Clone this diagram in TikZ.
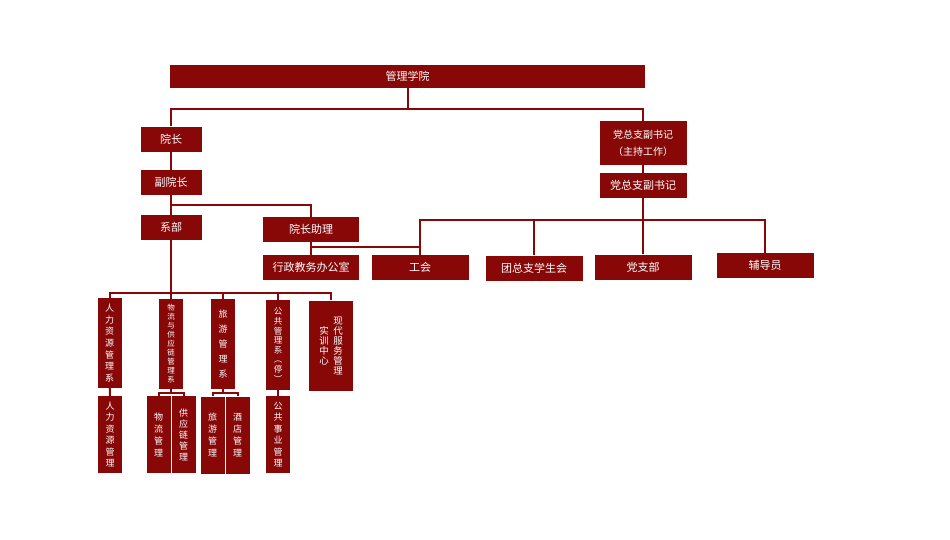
\documentclass[tikz,border=0pt]{standalone}
\usepackage{fontspec}
\setmainfont{Noto Sans CJK SC}
\usepackage{tikz}
\usetikzlibrary{positioning}
\definecolor{dred}{RGB}{136, 8, 8}
\tikzset{box/.style = {fill=dred, text=white, inner sep=0, minimum height=25,
                       align=center, font=\fontsize{11}{13}\selectfont}}
\tikzset{vbox/.style = {box, minimum width=24, minimum height=90,
                        font=\fontsize{9}{11.7}\selectfont}}
\tikzset{lbox/.style = {box, minimum width=24, minimum height=77,
                        font=\fontsize{9}{11.4}\selectfont}}
\tikzset{link/.style = {draw=dred, line width=2}}

\begin{document}
\begin{tikzpicture}[x=1pt, y=-1pt]
    \path [fill=white] (0, 0) rectangle (950, 539);

    \node [box, minimum width=475, minimum height=23] (school) at (407.5, 76.5) {管理学院};
    \node [box, minimum width=61] (dean) at (171, 139) {院长};
    \node [box, minimum width=61] (vdean) at (171, 182.5) {副院长};
    \node [box, minimum width=61] (dept) at (171, 227.5) {系部};
    \node [box, minimum width=96] (assist) at (311, 229.5) {院长助理};
    \node [box, minimum width=96] (office) at (311, 267.5) {行政教务办公室};
    \node [box, minimum width=87, minimum height=44, font=\fontsize{10}{17}\selectfont]
        (sec1) at (643, 143) {党总支副书记\\（主持工作）};
    \node [box, minimum width=87] (sec2) at (643, 185.5) {党总支副书记};
    \node [box, minimum width=97] (union) at (420, 267.5) {工会};
    \node [box, minimum width=97] (youth) at (534, 268) {团总支学生会};
    \node [box, minimum width=97] (party) at (643, 267) {党支部};
    \node [box, minimum width=97] (couns) at (765, 265.5) {辅导员};

    \draw [link] (school.south) -- ++(0, 21) coordinate (top);
    \draw [link] (dean.north) |- (top) -| (sec1.north);
    \draw [link] (dean) -- (vdean);
    \draw [link] (vdean) -- (dept);
    \draw [link] (vdean.south) -- ++(0, 9.5) -| (assist.north);
    \draw [link] (assist) -- (office);
    \draw [link] (office.north) ++(0, -8) -| (union.north);
    \draw [link] (sec1) -- (sec2);
    \draw [link] (sec2.south) -- ++(0, 22) coordinate (hub);
    \draw [link] (union.north) |- (hub) -| (couns.north);
    \draw [link] (hub) -- (party.north);
    \draw [link] (youth.north |- hub) -- (youth.north);

    % departments
    \node [vbox] (hr) at (109.5, 343) {人\\力\\资\\源\\管\\理\\系};
    \node [vbox, font=\fontsize{7.5}{9}\selectfont] (log) at (171, 344) {物\\流\\与\\供\\应\\链\\管\\理\\系};
    \node [vbox, font=\fontsize{9}{15}\selectfont] (tour) at (223, 344) {旅\\游\\管\\理\\系};
    \node [vbox, font=\fontsize{8.5}{9.6}\selectfont] (pub) at (278, 345) {公\\共\\管\\理\\系\\︵\\停\\︶};
    \node [vbox, minimum width=44, font=\fontsize{9.5}{10}\selectfont] (srv) at (331, 345.5)
        {\parbox{11pt}{\centering 实\\训\\中\\心}\hspace{3pt}\parbox{11pt}{\centering 现\\代\\服\\务\\管\\理}};

    \node [lbox] (hrm) at (110, 434.5) {人\\力\\资\\源\\管\\理};
    \node [lbox, font=\fontsize{9}{12}\selectfont] (lgm) at (158.5, 434.5) {物\\流\\管\\理};
    \node [lbox, font=\fontsize{9}{11}\selectfont] (scm) at (183.5, 434.5) {供\\应\\链\\管\\理};
    \node [lbox, font=\fontsize{9}{12}\selectfont] (tm) at (212.5, 435) {旅\\游\\管\\理};
    \node [lbox, font=\fontsize{9}{12}\selectfont] (htm) at (237.5, 435) {酒\\店\\管\\理};
    \node [lbox] (pam) at (278, 434.5) {公\\共\\事\\业\\管\\理};

    \draw [link] (dept.south) -- ++(0, 53) coordinate (fork);
    \draw [link] (hr.north) |- (fork) -| (srv.north);
    \foreach \n in {log, tour, pub}
        \draw [link] (fork -| \n.north) -- (\n.north);
    \draw [link] (hr) -- (hrm);
    \draw [link] (pub) -- (pam);
    \draw [link] (log.south) -- ++(0, 3.5) coordinate (lfork);
    \draw [link] (lgm.north) |- (lfork) -| (scm.north);
    \draw [link] (tour.south) -- ++(0, 3.5) coordinate (tfork);
    \draw [link] (tm.north) |- (tfork) -| (htm.north);
\end{tikzpicture}
\end{document}
